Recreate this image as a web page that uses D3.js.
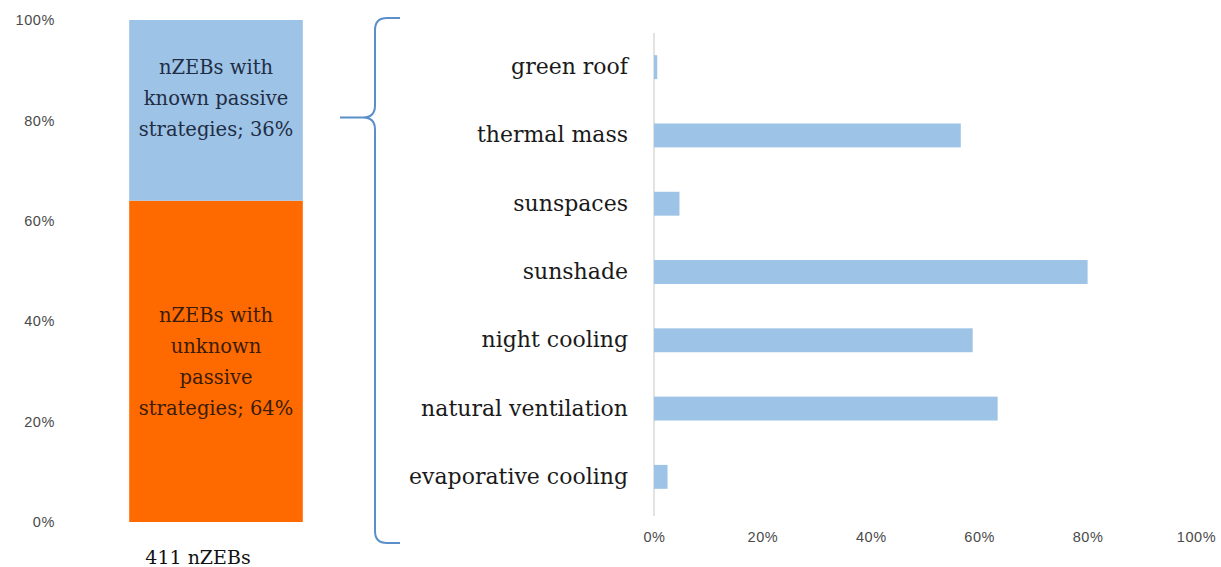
<!DOCTYPE html>
<html>
<head>
<meta charset="utf-8">
<script src="https://cdn.jsdelivr.net/npm/d3@7"></script>
<style>
  html, body { margin: 0; padding: 0; background: #fff; }
  svg { display: block; }
</style>
</head>
<body>
<svg id="chart" width="1221" height="567"></svg>
<script>
// Share of nZEBs with known / unknown passive strategies (left stacked column)
const stackCategory = ["411 nZEBs"];
const stackKeys = ["unknown", "known"];
const stackValues = { unknown: 0.64, known: 0.36 };
const stackLabels = {
  unknown: ["nZEBs with", "unknown", "passive", "strategies; 64%"],
  known: ["nZEBs with", "known passive", "strategies; 36%"]
};
const leftTicks = [0, 0.2, 0.4, 0.6, 0.8, 1.0];

// Passive strategies used by the known group (right horizontal bars)
const strategies = ["green roof", "thermal mass", "sunspaces", "sunshade",
  "night cooling", "natural ventilation", "evaporative cooling"];
const strategyShare = [0.006, 0.566, 0.047, 0.80, 0.588, 0.634, 0.025];
const rightTicks = [0, 0.2, 0.4, 0.6, 0.8, 1.0];

(function draw() {
const svg = d3.select("#chart");
const serif = "'DejaVu Serif', 'Liberation Serif', serif";
const sans = "'Liberation Sans', Arial, sans-serif";
const pct = d3.format(".0%");

// ---------- left: stacked column ----------
const yL = d3.scaleLinear().domain([0, 1]).range([522, 20]);
const xL = d3.scaleBand().domain(stackCategory).range([92, 340]).paddingInner(0.3).paddingOuter(0.14);

const leftAxis = svg.append("g")
  .attr("transform", "translate(55,0)")
  .call(d3.axisLeft(yL).tickValues(leftTicks).tickFormat(pct).tickSize(0).tickPadding(0));
leftAxis.select(".domain").remove();
leftAxis.selectAll("text")
  .attr("font-family", sans).attr("font-size", 14.5).attr("letter-spacing", 0.6)
  .attr("fill", "#4a4a4a");

const stacked = d3.stack().keys(stackKeys)([stackValues]);
const colors = { unknown: "#ff6a00", known: "#9dc3e6" };
const textColors = { unknown: "#3a1c08", known: "#1f2d45" };

const segs = svg.append("g").selectAll("g.seg").data(stacked).join("g").attr("class", "seg");
segs.append("rect")
  .attr("x", xL(stackCategory[0]))
  .attr("width", xL.bandwidth())
  .attr("y", d => yL(d[0][1]))
  .attr("height", d => yL(d[0][0]) - yL(d[0][1]))
  .attr("fill", d => colors[d.key]);

const lineH = 31;
segs.each(function (d) {
  const lines = stackLabels[d.key];
  const cy = (yL(d[0][0]) + yL(d[0][1])) / 2 + (d.key === "known" ? -12 : 0);
  const t = d3.select(this).append("text")
    .attr("text-anchor", "middle")
    .attr("font-family", serif).attr("font-size", 19.5)
    .attr("fill", textColors[d.key]);
  lines.forEach((ln, i) => {
    t.append("tspan")
      .attr("x", xL(stackCategory[0]) + xL.bandwidth() / 2)
      .attr("y", cy + (i - (lines.length - 1) / 2) * lineH)
      .attr("dy", "0.35em")
      .text(ln);
  });
});

svg.append("text")
  .attr("x", xL(stackCategory[0]) + xL.bandwidth() / 2 - 18)
  .attr("y", 557).attr("dy", "0.35em")
  .attr("text-anchor", "middle")
  .attr("font-family", serif).attr("font-size", 19).attr("fill", "#111")
  .text(stackCategory[0]);

// ---------- brace linking the known group to its breakdown ----------
const bx = 375, tipX = 340, tipY = yL(0.8) - 3, braceTop = 18, braceBot = 543, r = 12;
svg.append("path")
  .attr("fill", "none").attr("stroke", "#5b8fc9").attr("stroke-width", 2)
  .attr("d", `M${bx + 25},${braceTop} L${bx + r},${braceTop} Q${bx},${braceTop} ${bx},${braceTop + r}
    L${bx},${tipY - r} Q${bx},${tipY} ${bx - r},${tipY} L${tipX},${tipY}
    M${bx - r},${tipY} Q${bx},${tipY} ${bx},${tipY + r}
    L${bx},${braceBot - r} Q${bx},${braceBot} ${bx + r},${braceBot} L${bx + 25},${braceBot}`);

// ---------- right: horizontal bars ----------
const xR = d3.scaleLinear().domain([0, 1]).range([654, 1196]);
const yR = d3.scaleBand().domain(strategies).range([33, 511]).paddingInner(0.65).paddingOuter(0.325);

svg.append("line")
  .attr("x1", xR(0)).attr("x2", xR(0)).attr("y1", 33).attr("y2", 516)
  .attr("stroke", "#d9d9d9").attr("stroke-width", 1.5);

svg.append("g").selectAll("rect").data(strategies).join("rect")
  .attr("x", xR(0))
  .attr("y", d => yR(d))
  .attr("width", (d, i) => xR(strategyShare[i]) - xR(0))
  .attr("height", yR.bandwidth())
  .attr("fill", "#9dc3e6");

const catAxis = svg.append("g")
  .attr("transform", `translate(${xR(0) - 26},0)`)
  .call(d3.axisLeft(yR).tickSize(0).tickPadding(0));
catAxis.select(".domain").remove();
catAxis.selectAll("text")
  .attr("font-family", serif).attr("font-size", 22).attr("fill", "#1a1a1a");

const valAxis = svg.append("g")
  .attr("transform", "translate(0,537)")
  .call(d3.axisBottom(xR).tickValues(rightTicks).tickFormat(pct).tickSize(0).tickPadding(0));
valAxis.select(".domain").remove();
valAxis.selectAll("text")
  .attr("dy", "0.35em")
  .attr("font-family", sans).attr("font-size", 14.5).attr("letter-spacing", 0.6)
  .attr("fill", "#4a4a4a");
})();
</script>
</body>
</html>
